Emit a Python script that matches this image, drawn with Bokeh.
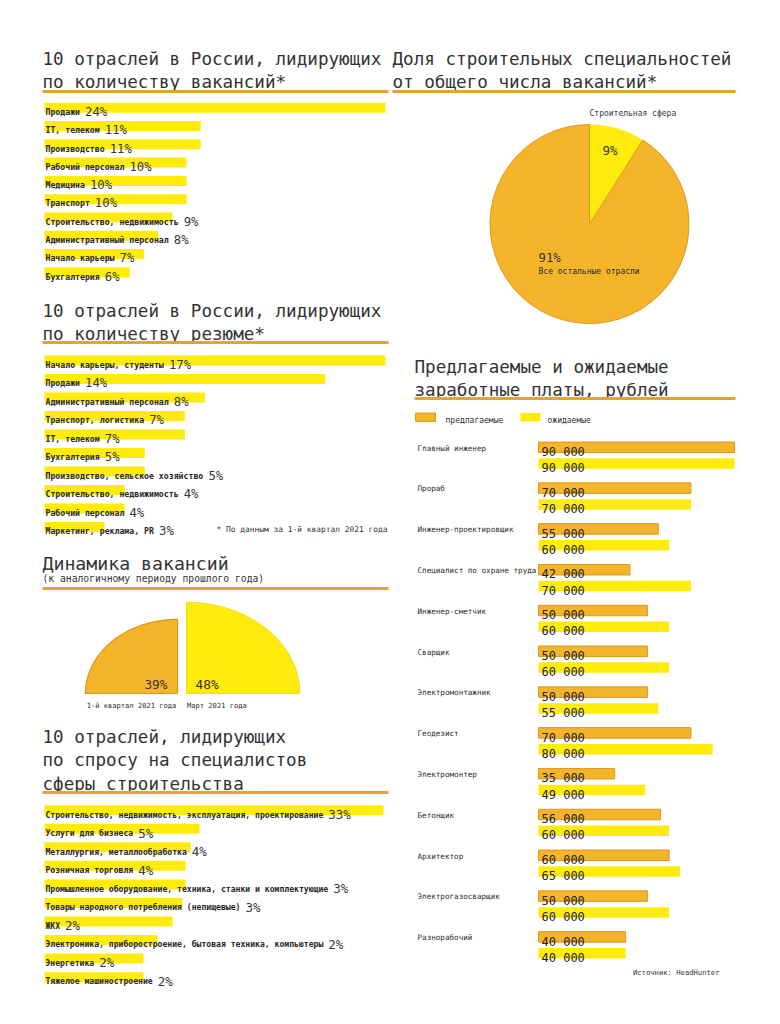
import numpy as np
from bokeh.plotting import figure
from bokeh.models import Range1d
from bokeh.core.properties import value
from bokeh.embed import file_html
from bokeh.resources import INLINE

# ---------------- data ----------------
vac_labels = ["Продажи", "IT, телеком", "Производство", "Рабочий персонал", "Медицина",
              "Транспорт", "Строительство, недвижимость", "Административный персонал",
              "Начало карьеры", "Бухгалтерия"]
vac_values = [24, 11, 11, 10, 10, 10, 9, 8, 7, 6]

res_labels = ["Начало карьеры, студенты", "Продажи", "Административный персонал",
              "Транспорт, логистика", "IT, телеком", "Бухгалтерия",
              "Производство, сельское хозяйство", "Строительство, недвижимость",
              "Рабочий персонал", "Маркетинг, реклама, PR"]
res_values = [17, 14, 8, 7, 7, 5, 5, 4, 4, 3]

share_labels = ["Строительная сфера", "Все остальные отрасли"]
share_values = [9, 91]

dyn_labels = ["1-й квартал 2021 года", "Март 2021 года"]
dyn_values = [39, 48]

dem_labels = ["Строительство, недвижимость, эксплуатация, проектирование",
              "Услуги для бизнеса", "Металлургия, металлообработка", "Розничная торговля",
              "Промышленное оборудование, техника, станки и комплектующие",
              "Товары народного потребления (непищевые)", "ЖКХ",
              "Электроника, приборостроение, бытовая техника, компьютеры",
              "Энергетика", "Тяжелое машиностроение"]
dem_values = [33, 5, 4, 4, 3, 3, 2, 2, 2, 2]
# bar lengths as drawn in the source (not to scale), relative to the longest bar = 100
dem_bar = [100, 45.7, 43.1, 41.6, 41.6, 40.7, 37.8, 33.3, 29.2, 29.2]

sal_jobs = ["Главный инженер", "Прораб", "Инженер-проектировщик", "Специалист по охране труда",
            "Инженер-сметчик", "Сварщик", "Электромонтажник", "Геодезист", "Электромонтер",
            "Бетонщик", "Архитектор", "Электрогазосварщик", "Разнорабочий"]
sal_offered = [90000, 70000, 55000, 42000, 50000, 50000, 50000, 70000, 35000, 56000, 60000, 50000, 40000]
sal_expected = [90000, 70000, 60000, 70000, 60000, 60000, 55000, 80000, 49000, 60000, 65000, 60000, 40000]
sal_series = ["предлагаемые", "ожидаемые"]

# ---------------- style ----------------
YELLOW = "#FFEC0C"
ORANGE = "#F5B52A"
ORANGE_EDGE = "#E0961C"
RULE = "#E6A03C"
TEXT = "#2b2b2b"
MONO = "DejaVu Sans Mono"
CW = 0.602  # monospace advance per em

W, H = 764, 1008
X0, Y0 = 0, 0

p = figure(width=W, height=H, x_range=Range1d(X0, X0 + W), y_range=Range1d(Y0 + H, Y0),
           output_backend="svg", toolbar_location=None, min_border=0,
           x_axis_type=None, y_axis_type=None)
p.xgrid.visible = False
p.ygrid.visible = False
p.outline_line_color = None
p.background_fill_color = "white"
p.border_fill_color = "white"


def xrange_for(origin_px, px_per_unit):
    start = -(origin_px - X0) / px_per_unit
    return Range1d(start, start + W / px_per_unit)


def yrange_up(origin_px, px_per_unit):
    start = -(Y0 + H - origin_px) / px_per_unit
    return Range1d(start, start + H / px_per_unit)


BAR_X = 44
KX_DYN, KY_DYN = 2.36, 1.9
DYN_X, DYN_Y = 181.5, 693

extra_x = {
    "vac": xrange_for(BAR_X, 341 / max(vac_values)),
    "res": xrange_for(BAR_X, 341 / max(res_values)),
    "dem": xrange_for(BAR_X, 339 / max(dem_bar)),
    "sal": xrange_for(538, 196 / max(sal_offered + sal_expected)),
    "dyn": xrange_for(DYN_X, KX_DYN),
}
extra_y = {
    "up": Range1d(-(Y0 + H), -Y0),
    "dyn": yrange_up(DYN_Y, KY_DYN),
}
p.extra_x_ranges = extra_x
p.extra_y_ranges = extra_y


def txt(x, y, s, size, color=TEXT, align="left", baseline="alphabetic", style="normal", **kw):
    if not isinstance(x, (list, tuple, np.ndarray)):
        x, y, s = [x], [y], [s]
    p.text(x=list(x), y=list(y), text=list(s), text_font=value(MONO),
           text_font_size=f"{size}px", text_color=color, text_align=align,
           text_baseline=baseline, text_font_style=style, **kw)


def title(x, ys, lines, size=17.6):
    for yy, ln in zip(ys, lines):
        txt(x, yy, ln, size, color="#333333")


def rule(x1, x2, y):
    p.segment(x0=[x1], y0=[y], x1=[x2], y1=[y], line_color=RULE, line_width=3)


def bar_chart(name, labels, values, lengths, y0, step, lab_size=8.2, pct_size=12.3):
    ys = [y0 + i * step for i in range(len(labels))]
    p.hbar(y=ys, left=0, right=lengths, height=10, x_range_name=name,
           fill_color=YELLOW, line_color=None)
    base = [yy + 4.3 for yy in ys]
    txt([BAR_X + 1] * len(labels), base, labels, lab_size, color="#262626", style="bold")
    px = [BAR_X + 1 + (len(l) + 1) * CW * lab_size for l in labels]
    txt(px, base, [f"{v}%" for v in values], pct_size, color="#383838")


# ---- 1. vacancies ----
title(42, [58, 81.5], ["10 отраслей в России, лидирующих", "по количеству вакансий*"])
rule(42, 388, 91)
bar_chart("vac", vac_labels, vac_values, vac_values, 107.3, 18.27)

# ---- 2. share pie ----
title(392, [58, 81.5], ["Доля строительных специальностей", "от общего числа вакансий*"])
rule(392, 735, 91)
cum = np.cumsum([0] + share_values)
tot = float(sum(share_values))
starts = [np.pi / 2 - cum[i + 1] / tot * 2 * np.pi for i in range(len(share_values))]
ends = [np.pi / 2 - cum[i] / tot * 2 * np.pi for i in range(len(share_values))]
PIE_X, PIE_Y, PIE_R = 589, 223.5, 99.5
p.wedge(x=[PIE_X] * 2, y=[-PIE_Y] * 2, radius=PIE_R, start_angle=starts, end_angle=ends,
        y_range_name="up", fill_color=[YELLOW, ORANGE], line_color=[None, ORANGE_EDGE],
        line_width=1)
txt(589, 112.5, share_labels[0], 8, color="#3a3a3a")
txt(602, 149.5, f"{share_values[0]}%", 12.5, color="#333333")
txt(538, 257, f"{share_values[1]}%", 12.3, color="#333333")
txt(538, 271, share_labels[1], 8, color="#2a2a2a")

# ---- 3. resumes ----
title(42, [310.7, 333.5], ["10 отраслей в России, лидирующих", "по количеству резюме*"])
rule(42, 388, 342)
bar_chart("res", res_labels, res_values, res_values, 360, 18.5)
txt(387, 529, "* По данным за 1-й квартал 2021 года", 7.9, color="#333333", align="right")

# ---- 4. dynamics ----
title(42, [563.3], ["Динамика вакансий"], size=18.2)
txt(42, 577.5, "(к аналогичному периоду прошлого года)", 9.7, color="#333333")
rule(42, 388, 588)
g = 4.5 / KX_DYN
t_left = np.linspace(np.pi / 2, np.pi, 80)
t_right = np.linspace(0, np.pi / 2, 80)
v0, v1 = dyn_values
xs_l = np.concatenate([[-g], -g + v0 * np.cos(t_left)])
ys_l = np.concatenate([[0], v0 * np.sin(t_left)])
xs_r = np.concatenate([[g], g + v1 * np.cos(t_right)])
ys_r = np.concatenate([[0], v1 * np.sin(t_right)])
p.patch(x=xs_l, y=ys_l, x_range_name="dyn", y_range_name="dyn",
        fill_color=ORANGE, line_color=ORANGE_EDGE, line_width=1.2)
p.patch(x=xs_r, y=ys_r, x_range_name="dyn", y_range_name="dyn",
        fill_color=YELLOW, line_color="#F3DC10", line_width=1)
p.text(x=[-g - 10 / KX_DYN, g + 9 / KX_DYN], y=[-(684 - DYN_Y) / KY_DYN] * 2,
       text=[f"{v}%" for v in dyn_values], x_range_name="dyn", y_range_name="dyn",
       text_align=["right", "left"], text_font=value(MONO), text_font_size="12.8px",
       text_color="#333333", text_baseline="alphabetic")
p.text(x=[-g - v0 / 2, g + 0.5 / KX_DYN], y=[-(705 - DYN_Y) / KY_DYN] * 2,
       text=dyn_labels, x_range_name="dyn", y_range_name="dyn",
       text_align=["center", "left"], text_font=value(MONO), text_font_size="7.1px",
       text_color="#2a2a2a", text_baseline="alphabetic")

# ---- 5. demand for construction specialists ----
title(42, [736.7, 759.8, 783], ["10 отраслей, лидирующих", "по спросу на специалистов",
                                "сферы строительства"])
rule(42, 388, 792)
bar_chart("dem", dem_labels, dem_values, dem_bar, 809.7, 18.55, lab_size=8.1, pct_size=12.5)

# ---- 6. salaries ----
title(414, [366, 389.3], ["Предлагаемые и ожидаемые", "заработные платы, рублей"])
rule(414, 735, 398)
p.quad(left=[415, 520], right=[435, 540], top=[412.5, 412.5], bottom=[421, 421],
       fill_color=[ORANGE, YELLOW], line_color=[ORANGE_EDGE, None])
txt([445, 547], [420, 420], sal_series, 8, color="#333333")

y_off = [446.8 + i * 40.8 for i in range(len(sal_jobs))]
y_exp = [y + 16.3 for y in y_off]
p.hbar(y=y_off, left=0, right=sal_offered, height=10.5, x_range_name="sal",
       fill_color=ORANGE, line_color=ORANGE_EDGE, line_width=1)
p.hbar(y=y_exp, left=0, right=sal_expected, height=10.5, x_range_name="sal",
       fill_color=YELLOW, line_color=None)
fmt = lambda v: f"{v:,}".replace(",", " ")
txt([541] * len(y_off), [y + 4.6 for y in y_off], [fmt(v) for v in sal_offered], 12, color="#222222")
txt([541] * len(y_exp), [y + 4.6 for y in y_exp], [fmt(v) for v in sal_expected], 12, color="#222222")
txt([417] * len(sal_jobs), [y + 0.8 for y in y_off], sal_jobs, 7.6, color="#2a2a2a")
txt(719, 972, "Источник: HeadHunter", 7.2, color="#333333", align="right")

open("out.html", "w").write(file_html(p, INLINE))
